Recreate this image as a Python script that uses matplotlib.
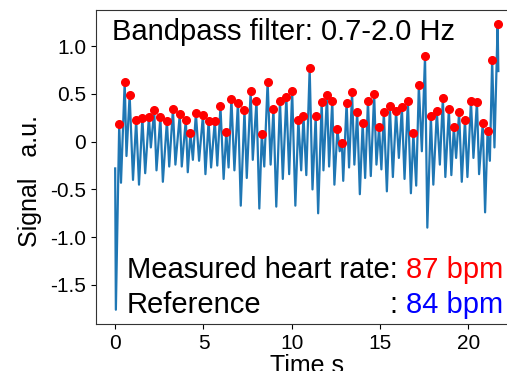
import matplotlib
matplotlib.use("Agg")
import matplotlib.pyplot as plt
import numpy as np

plt.rcParams['font.family'] = ['Liberation Sans', 'DejaVu Sans']
plt.rcParams['axes.unicode_minus'] = False

# filtered signal, turning points (time in s, a.u.)
time_s = [0.0, 0.04, 0.23, 0.33, 0.54, 0.64, 0.82, 1.01, 1.19, 1.35,
          1.54, 1.70, 1.91, 2.02, 2.21, 2.34, 2.56, 2.70, 2.93, 3.06,
          3.27, 3.41, 3.66, 3.77, 4.00, 4.11, 4.26, 4.40, 4.57, 4.75,
          4.97, 5.11, 5.29, 5.43, 5.64, 5.78, 5.96, 6.14, 6.29, 6.42,
          6.58, 6.75, 6.95, 7.11, 7.32, 7.45, 7.67, 7.79, 8.00, 8.16,
          8.30, 8.44, 8.63, 8.80, 8.96, 9.12, 9.33, 9.49, 9.69, 9.85,
          10.02, 10.20, 10.37, 10.53, 10.66, 10.82, 11.01, 11.17, 11.35, 11.49,
          11.69, 11.79, 11.99, 12.11, 12.29, 12.41, 12.58, 12.71, 12.83, 12.91,
          13.10, 13.24, 13.41, 13.54, 13.70, 13.85, 14.01, 14.15, 14.31, 14.47,
          14.66, 14.79, 14.94, 15.07, 15.21, 15.38, 15.55, 15.72, 15.90, 16.06,
          16.23, 16.38, 16.57, 16.74, 16.88, 17.04, 17.19, 17.36, 17.54, 17.67,
          17.87, 18.01, 18.21, 18.38, 18.55, 18.69, 18.89, 19.03, 19.17, 19.30,
          19.47, 19.62, 19.80, 19.94, 20.14, 20.28, 20.48, 20.60, 20.81, 20.94,
          21.08, 21.21, 21.34, 21.47, 21.65, 21.69]
signal = [-0.28, -1.76, 0.19, -0.43, 0.63, -0.15, 0.49, -0.40, 0.23, -0.45,
          0.25, -0.33, 0.26, -0.06, 0.33, -0.30, 0.26, -0.42, 0.22, -0.26,
          0.34, -0.24, 0.29, -0.26, 0.23, -0.32, 0.09, -0.19, 0.30, -0.20,
          0.28, -0.34, 0.22, -0.27, 0.22, -0.25, 0.37, -0.39, 0.10, -0.27,
          0.45, -0.30, 0.41, -0.67, 0.33, -0.38, 0.53, -0.19, 0.43, -0.70,
          0.08, -0.26, 0.63, -0.24, 0.34, -0.68, 0.43, -0.39, 0.47, -0.34,
          0.53, -0.67, 0.23, -0.30, 0.27, -0.35, 0.77, -0.50, 0.27, -0.75,
          0.42, -0.30, 0.49, -0.26, 0.43, -0.45, 0.13, -0.10, -0.01, -0.41,
          0.41, -0.27, 0.52, -0.24, 0.31, -0.55, 0.20, -0.38, 0.43, -0.36,
          0.50, -0.24, 0.15, -0.29, 0.31, -0.52, 0.37, -0.37, 0.32, -0.17,
          0.36, -0.39, 0.43, -0.54, 0.09, -0.46, 0.59, -0.10, 0.90, -0.90,
          0.27, -0.45, 0.32, -0.24, 0.46, -0.37, 0.34, -0.35, 0.15, -0.17,
          0.31, -0.42, 0.23, -0.37, 0.43, -0.17, 0.42, -0.34, 0.20, -0.74,
          0.11, -0.20, 0.86, -0.06, 1.23, 0.74]

yticks = [1.0, 0.5, 0, -0.5, -1.0, -1.5]
ytick_labels = ['1.0', '0.5', '0', '-0.5', '-1.0', '-1.5']
xticks = [0, 5, 10, 15, 20]

measured_bpm = 87
reference_bpm = 84

t = np.array(time_s)
s = np.array(signal)
# peaks = local maxima of the signal
pk = [i for i in range(1, len(s) - 1) if s[i] > s[i - 1] and s[i] > s[i + 1]]

fig = plt.figure(figsize=(5.07, 3.71), dpi=100)
ax = fig.add_axes([96 / 507, 47 / 371, 421.5 / 507, 314 / 371])

ax.plot(t, s, color='#1f77b4', lw=1.6)
ax.plot(t[pk], s[pk], 'o', color='red', ms=5.5)

ax.set_xticks(xticks)
ax.set_yticks(yticks)
ax.set_yticklabels(ytick_labels)
ax.tick_params(labelsize=15)
ax.spines['right'].set_visible(False)
for sp in ['left', 'bottom', 'top']:
    ax.spines[sp].set_color('#333333')

ax.set_xlabel('Time s', fontsize=18, labelpad=1)
ax.set_ylabel('Signal   a.u.', fontsize=18)
ax.yaxis.set_label_coords(-0.128, 0.455)

ax.text(0.038, 0.904, 'Bandpass filter: 0.7-2.0 Hz', transform=ax.transAxes,
        fontsize=21, va='baseline')
ax.text(0.0735, 0.1465, 'Measured heart rate:', transform=ax.transAxes,
        fontsize=21, va='baseline')
ax.text(0.7355, 0.1465, '%d bpm' % measured_bpm, transform=ax.transAxes,
        fontsize=21, va='baseline', color='red')
ax.text(0.0735, 0.035, 'Reference', transform=ax.transAxes,
        fontsize=21, va='baseline')
ax.text(0.697, 0.035, ':', transform=ax.transAxes,
        fontsize=21, va='baseline')
ax.text(0.7355, 0.035, '%d bpm' % reference_bpm, transform=ax.transAxes,
        fontsize=21, va='baseline', color='blue')

fig.savefig('out.png', dpi=100)
